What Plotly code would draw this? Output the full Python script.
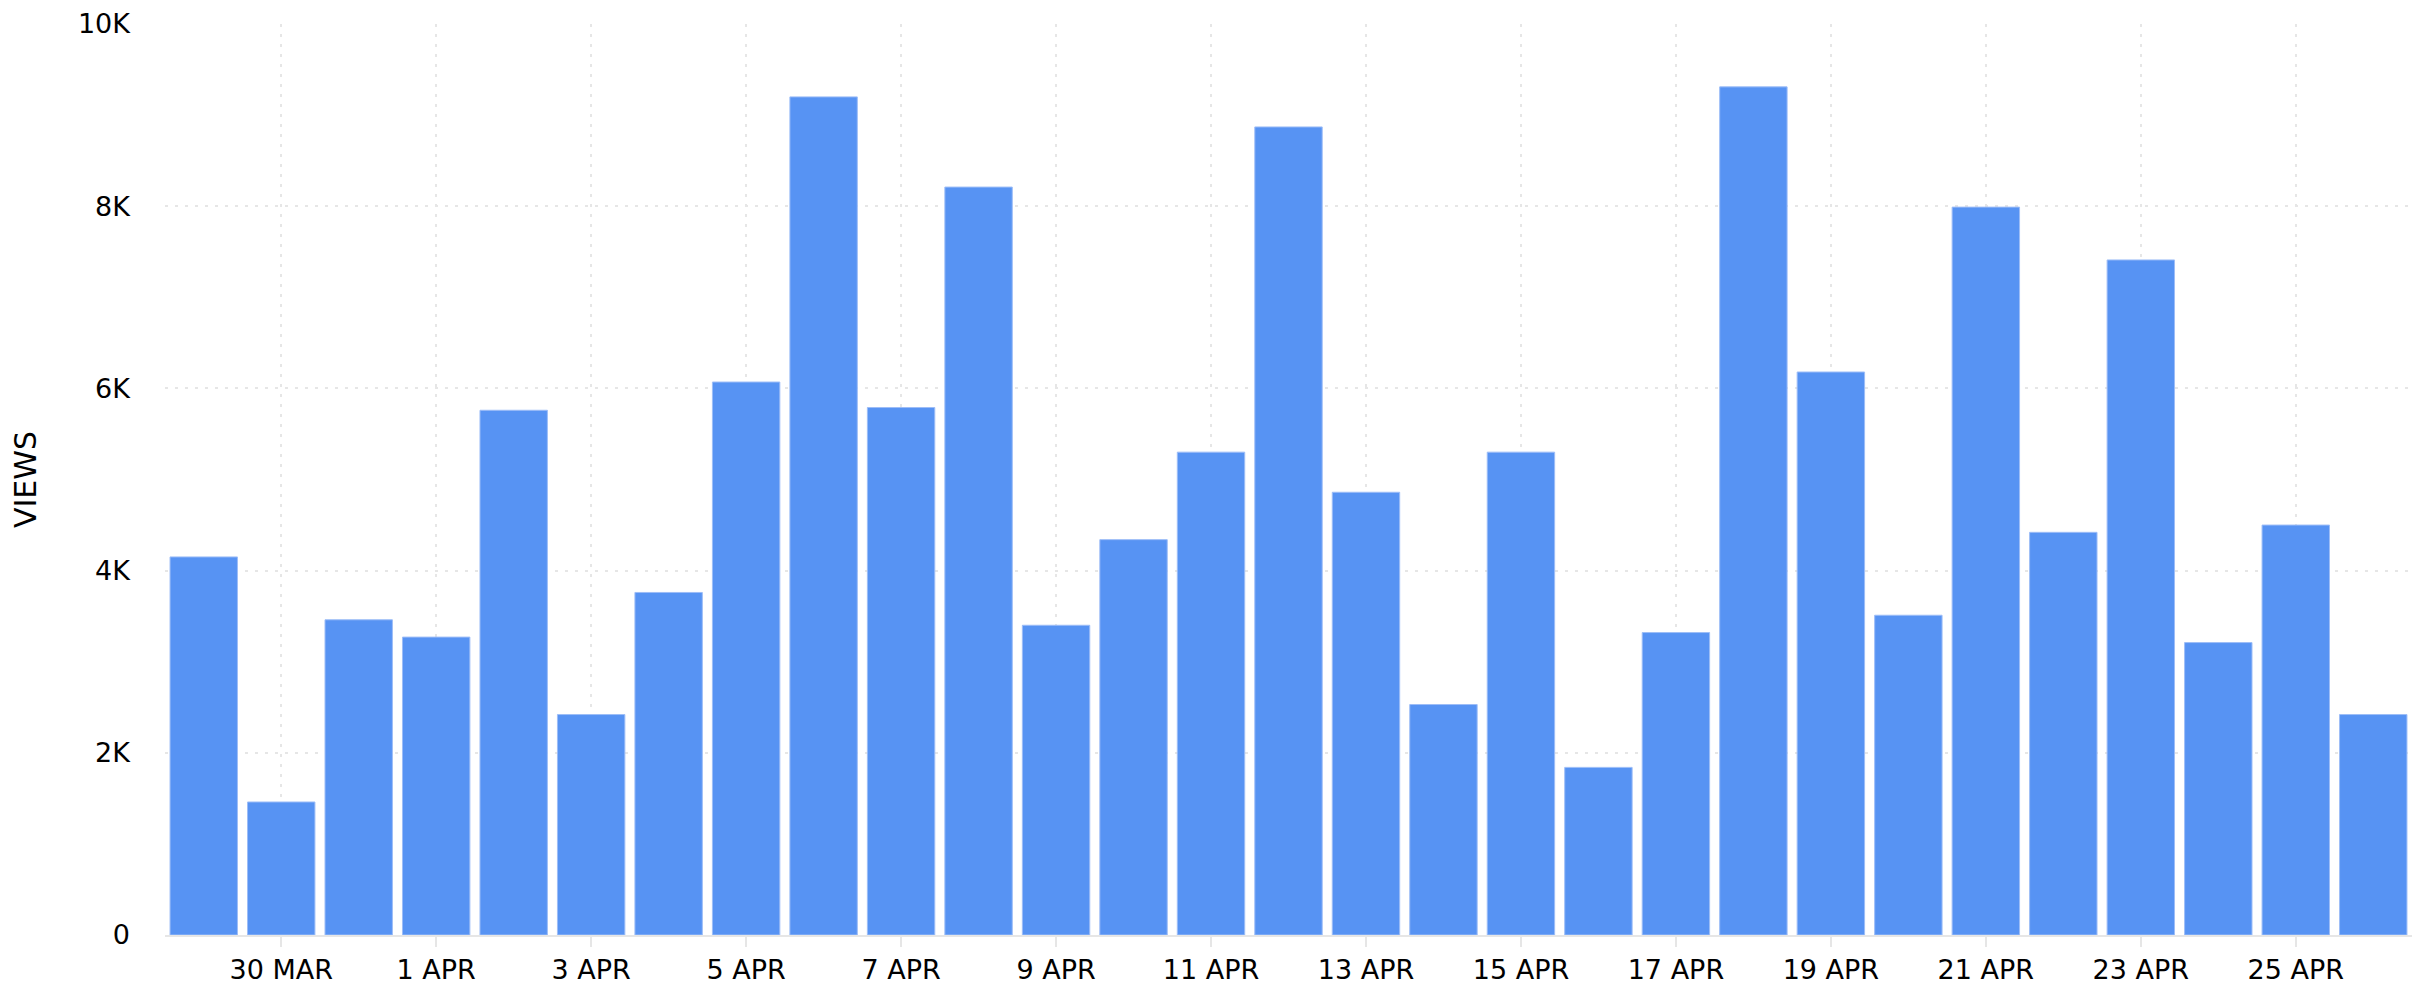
import plotly.graph_objects as go

# ---- data ----
dates = ["29 MAR", "30 MAR", "31 MAR", "1 APR", "2 APR", "3 APR", "4 APR", "5 APR",
         "6 APR", "7 APR", "8 APR", "9 APR", "10 APR", "11 APR", "12 APR", "13 APR",
         "14 APR", "15 APR", "16 APR", "17 APR", "18 APR", "19 APR", "20 APR", "21 APR",
         "22 APR", "23 APR", "24 APR", "25 APR", "26 APR"]
views = [4150, 1460, 3460, 3270, 5760, 2420, 3760, 6070,
         9200, 5790, 8210, 3400, 4340, 5300, 8870, 4860,
         2530, 5300, 1840, 3320, 9310, 6180, 3510, 7990,
         4420, 7410, 3210, 4500, 2420]
x_tick_labels = ["30 MAR", "1 APR", "3 APR", "5 APR", "7 APR", "9 APR", "11 APR",
                 "13 APR", "15 APR", "17 APR", "19 APR", "21 APR", "23 APR", "25 APR"]
y_tick_vals = [0, 2000, 4000, 6000, 8000, 10000]
y_tick_text = ["0", "2K", "4K", "6K", "8K", "10K"]

FONT = "DejaVu Sans"
GRID = "#e6e6e6"

fig = go.Figure(
    go.Bar(
        x=dates,
        y=views,
        marker=dict(color="#5793f3", line=dict(color="#9dbdf7", width=1)),
    )
)

# page body adds an 8px offset; sizes/margins compensate for it
fig.update_layout(
    width=2409,
    height=984,
    margin=dict(l=157, r=5, t=16, b=57, autoexpand=False),
    paper_bgcolor="white",
    plot_bgcolor="white",
    bargap=0.13,
    showlegend=False,
    font=dict(family=FONT, size=27, color="#000000"),
)

fig.update_xaxes(
    type="category",
    automargin=False,
    range=[-0.5, len(dates) - 0.5],
    tickmode="array",
    tickvals=x_tick_labels,
    ticktext=x_tick_labels,
    ticks="outside",
    ticklen=10,
    tickwidth=2,
    tickcolor=GRID,
    showline=True,
    linecolor=GRID,
    linewidth=2,
    showgrid=True,
    gridcolor=GRID,
    gridwidth=2,
    griddash="3px,7px",
    tickfont=dict(family=FONT, size=27, color="#000000"),
    zeroline=False,
)

fig.update_yaxes(
    automargin=False,
    range=[0, 10000],
    tickmode="array",
    tickvals=y_tick_vals,
    ticktext=y_tick_text,
    showgrid=True,
    gridcolor=GRID,
    gridwidth=2,
    griddash="3px,7px",
    zeroline=False,
    showline=False,
    ticks="",
    ticklabelstandoff=34,
    tickfont=dict(family=FONT, size=27, color="#000000"),
    title=dict(text="VIEWS", font=dict(family=FONT, size=30, color="#000000"), standoff=33),
)

fig.write_html("out.html")
